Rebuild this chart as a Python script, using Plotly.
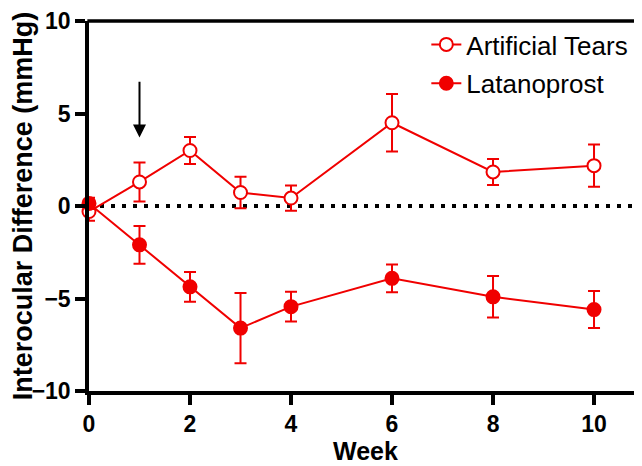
import plotly.graph_objects as go

weeks = [0, 1, 2, 3, 4, 6, 8, 10]
tears_mean = [-0.3, 1.3, 3.0, 0.73, 0.43, 4.5, 1.84, 2.18]
tears_sem = [0.5, 1.05, 0.73, 0.85, 0.68, 1.55, 0.7, 1.14]
latan_mean = [0.14, -2.1, -4.37, -6.6, -5.44, -3.91, -4.91, -5.6]
latan_sem = [0.3, 1.02, 0.8, 1.9, 0.8, 0.75, 1.12, 1.0]
x_ticks = [0, 2, 4, 6, 8, 10]
y_ticks = [-10, -5, 0, 5, 10]

RED = "#f00000"
FONT = "Liberation Sans, Arial, sans-serif"

fig = go.Figure()
fig.add_trace(go.Scatter(
    x=weeks, y=tears_mean, name="Artificial Tears", mode="lines+markers",
    line=dict(color=RED, width=2),
    marker=dict(symbol="circle", size=13, color="white", line=dict(color=RED, width=2)),
    error_y=dict(type="data", array=tears_sem, color=RED, thickness=2, width=6),
    cliponaxis=False, legendgroup="a"))
fig.add_trace(go.Scatter(
    x=weeks, y=latan_mean, name="Latanoprost", mode="lines+markers",
    line=dict(color=RED, width=2),
    marker=dict(symbol="circle", size=13, color=RED, line=dict(color=RED, width=2)),
    error_y=dict(type="data", array=latan_sem, color=RED, thickness=2, width=6),
    cliponaxis=False, legendgroup="b"))

fig.add_shape(type="line", xref="paper", x0=0, x1=1, yref="y", y0=0, y1=0,
              line=dict(color="black", width=4, dash="4px,7px"), layer="below")
fig.add_shape(type="line", xref="paper", x0=-0.003, x1=1, yref="paper", y0=1, y1=1,
              line=dict(color="black", width=3.5))

fig.add_annotation(x=1, y=3.7, ax=1, ay=6.8, xref="x", yref="y", axref="x", ayref="y",
                   showarrow=True, arrowhead=2, arrowsize=1.3, arrowwidth=2, arrowcolor="black", text="")

fig.update_layout(
    width=642, height=466,
    margin=dict(l=81, r=8, t=13, b=83),
    paper_bgcolor="white", plot_bgcolor="white",
    font=dict(family=FONT, color="black"),
    showlegend=True,
    legend=dict(x=0.61, y=1.0, xanchor="left", yanchor="top", font=dict(size=26, family=FONT),
                bgcolor="rgba(0,0,0,0)", tracegroupgap=2),
    xaxis=dict(range=[0, 10.95], tickvals=x_ticks, showline=True, linewidth=3.5, linecolor="black",
               ticks="outside", ticklen=10, tickwidth=3.5, tickcolor="black", showgrid=False, zeroline=False,
               automargin=False,
               tickfont=dict(size=23, family=FONT, weight="bold"),
               title=dict(text="<b>Week</b>", font=dict(size=25, family=FONT), standoff=5)),
    yaxis=dict(range=[-10, 10], tickvals=y_ticks, showline=True, linewidth=3.5, linecolor="black",
               ticks="outside", ticklen=10, tickwidth=3.5, tickcolor="black", showgrid=False, zeroline=False,
               automargin=False,
               tickfont=dict(size=23, family=FONT, weight="bold"),
               title=dict(text="<b>Interocular Difference (mmHg)</b>", font=dict(size=27, family=FONT), standoff=6)),
)
fig.write_html("out.html")
